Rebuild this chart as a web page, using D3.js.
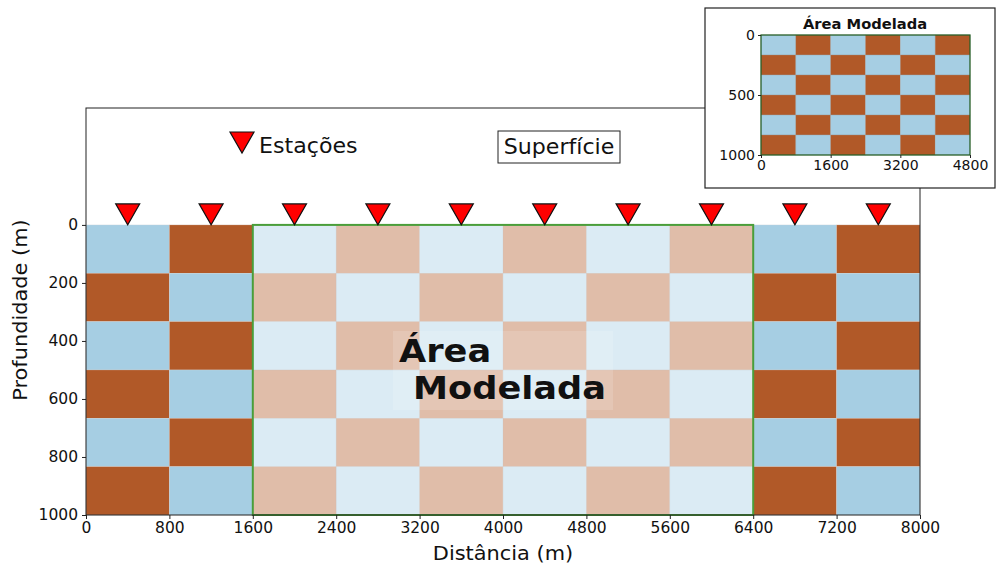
<!DOCTYPE html>
<html>
<head>
<meta charset="utf-8">
<script src="https://cdn.jsdelivr.net/npm/d3@7"></script>
<style>
body { margin: 0; background: #fff; }
text { font-family: "DejaVu Sans", sans-serif; fill: #111; }
</style>
</head>
<body>
<svg width="1000" height="567"></svg>
<script>
// dados
const colBounds = [0, 800, 1600, 2400, 3200, 4000, 4800, 5600, 6400, 7200, 8000];
const rowBounds = [0, 166.7, 333.3, 500, 666.7, 833.3, 1000];
const estacoes = [400, 1200, 2000, 2800, 3600, 4400, 5200, 6000, 6800, 7600];
const areaModelada = [1600, 6400];
const xTicks = [0, 800, 1600, 2400, 3200, 4000, 4800, 5600, 6400, 7200, 8000];
const yTicks = [0, 200, 400, 600, 800, 1000];
const insetXTicks = [0, 1600, 3200, 4800];
const insetYTicks = [0, 500, 1000];

const azul = '#a6cee3', marrom = '#b15928';
const svg = d3.select('svg');

const x = d3.scaleLinear().domain([0, 8000]).range([86, 920]);
const y = d3.scaleLinear().domain([-403, 1000]).range([108, 515]);

// texto com leve alargamento horizontal
function texto(px, py, str, size, opts = {}) {
    const g = svg.append('g').attr('transform', `translate(${px},${py}) ${opts.rot ? 'rotate(' + opts.rot + ')' : ''} scale(${opts.sx || 1.08},1)`);
    return g.append('text').attr('font-size', size)
        .attr('text-anchor', opts.anchor || 'start')
        .attr('font-weight', opts.bold ? 'bold' : 'normal')
        .text(str);
}

// celulas
const cells = [];
for (let i = 0; i < colBounds.length - 1; i++)
    for (let j = 0; j < rowBounds.length - 1; j++)
        cells.push({x0: colBounds[i], x1: colBounds[i+1], y0: rowBounds[j], y1: rowBounds[j+1], c: (i + j) % 2 ? marrom : azul});

const dentro = d => d.x0 >= areaModelada[0] && d.x1 <= areaModelada[1];

svg.append('g').selectAll('rect').data(cells).enter().append('rect')
    .attr('x', d => x(d.x0)).attr('y', d => y(d.y0))
    .attr('width', d => x(d.x1) - x(d.x0)).attr('height', d => y(d.y1) - y(d.y0))
    .attr('fill', d => d.c)
    .attr('fill-opacity', d => dentro(d) ? 0.4 : 1)
    .attr('stroke', '#d8d8d8').attr('stroke-width', 0.5).attr('stroke-opacity', 0.5);

// retangulo area modelada
svg.append('rect')
    .attr('x', x(areaModelada[0])).attr('y', y(0))
    .attr('width', x(areaModelada[1]) - x(areaModelada[0])).attr('height', y(1000) - y(0))
    .attr('fill', 'none').attr('stroke', '#4a9e3a').attr('stroke-width', 2);

// texto area modelada
svg.append('rect').attr('x', 393).attr('y', 331).attr('width', 220).attr('height', 79)
    .attr('fill', '#fff').attr('fill-opacity', 0.15);
texto(399, 362, 'Área', 32, {bold: true, sx: 1.1});
texto(413, 399, 'Modelada', 32, {bold: true, sx: 1.1});

// estacoes
const tri = (cx, tipY) => `M${cx - 12},${tipY - 21}L${cx + 12},${tipY - 21}L${cx},${tipY}Z`;
svg.append('g').selectAll('path').data(estacoes).enter().append('path')
    .attr('d', d => tri(x(d), y(0)))
    .attr('fill', '#ff0000').attr('stroke', '#111').attr('stroke-width', 1.2);

// legenda
svg.append('path').attr('d', tri(242, 153)).attr('fill', '#ff0000').attr('stroke', '#111').attr('stroke-width', 1.2);
texto(259, 153, 'Estações', 20.5);

svg.append('rect').attr('x', 498).attr('y', 131).attr('width', 122).attr('height', 32)
    .attr('fill', '#fff').attr('stroke', '#222').attr('stroke-width', 1);
texto(559, 154, 'Superfície', 20.5, {anchor: 'middle'});

// eixos
svg.append('rect').attr('x', 86).attr('y', 108).attr('width', 834).attr('height', 407)
    .attr('fill', 'none').attr('stroke', '#222').attr('stroke-width', 1);

const fmt = d3.format('d');
const xAxis = svg.append('g').attr('transform', `translate(0,515)`)
    .call(d3.axisBottom(x).tickValues(xTicks).tickFormat(fmt).tickSizeOuter(0).tickSize(4).tickPadding(3));
const yAxis = svg.append('g').attr('transform', `translate(86,0)`)
    .call(d3.axisLeft(y).tickValues(yTicks).tickFormat(fmt).tickSizeOuter(0).tickSize(4).tickPadding(4));
[xAxis, yAxis].forEach(a => {
    a.select('.domain').remove();
    a.selectAll('text').attr('font-size', 15.5).attr('font-family', 'DejaVu Sans').attr('fill', '#111');
    a.selectAll('line').attr('stroke', '#222');
});

texto(503, 560, 'Distância (m)', 19, {anchor: 'middle', sx: 1.1});
texto(27, 310, 'Profundidade (m)', 19, {anchor: 'middle', sx: 1.1, rot: -90});

// inset
svg.append('rect').attr('x', 705).attr('y', 8).attr('width', 290).attr('height', 180)
    .attr('fill', '#fff').attr('stroke', '#222').attr('stroke-width', 1.2);
const xi = d3.scaleLinear().domain([0, 4800]).range([761, 970]);
const yi = d3.scaleLinear().domain([0, 1000]).range([35, 155]);
const insetCells = cells.filter(dentro).map(d => ({...d, x0: d.x0 - 1600, x1: d.x1 - 1600}));
svg.append('g').selectAll('rect').data(insetCells).enter().append('rect')
    .attr('x', d => xi(d.x0)).attr('y', d => yi(d.y0))
    .attr('width', d => xi(d.x1) - xi(d.x0)).attr('height', d => yi(d.y1) - yi(d.y0))
    .attr('fill', d => d.c)
    .attr('stroke', '#999').attr('stroke-width', 0.5).attr('stroke-opacity', 0.6);
svg.append('rect').attr('x', xi(0)).attr('y', yi(0)).attr('width', xi(4800) - xi(0)).attr('height', yi(1000) - yi(0))
    .attr('fill', 'none').attr('stroke', '#1f5a1f').attr('stroke-width', 1.2);
const xiA = svg.append('g').attr('transform', `translate(0,155)`)
    .call(d3.axisBottom(xi).tickValues(insetXTicks).tickFormat(fmt).tickSizeOuter(0).tickSize(3).tickPadding(2));
const yiA = svg.append('g').attr('transform', `translate(761,0)`)
    .call(d3.axisLeft(yi).tickValues(insetYTicks).tickFormat(fmt).tickSizeOuter(0).tickSize(3).tickPadding(3));
[xiA, yiA].forEach(a => {
    a.select('.domain').remove();
    a.selectAll('text').attr('font-size', 14).attr('font-family', 'DejaVu Sans').attr('fill', '#111');
    a.selectAll('line').attr('stroke', '#222');
});
texto(865, 29, 'Área Modelada', 14, {anchor: 'middle', bold: true, sx: 1.05});
</script>
</body>
</html>
